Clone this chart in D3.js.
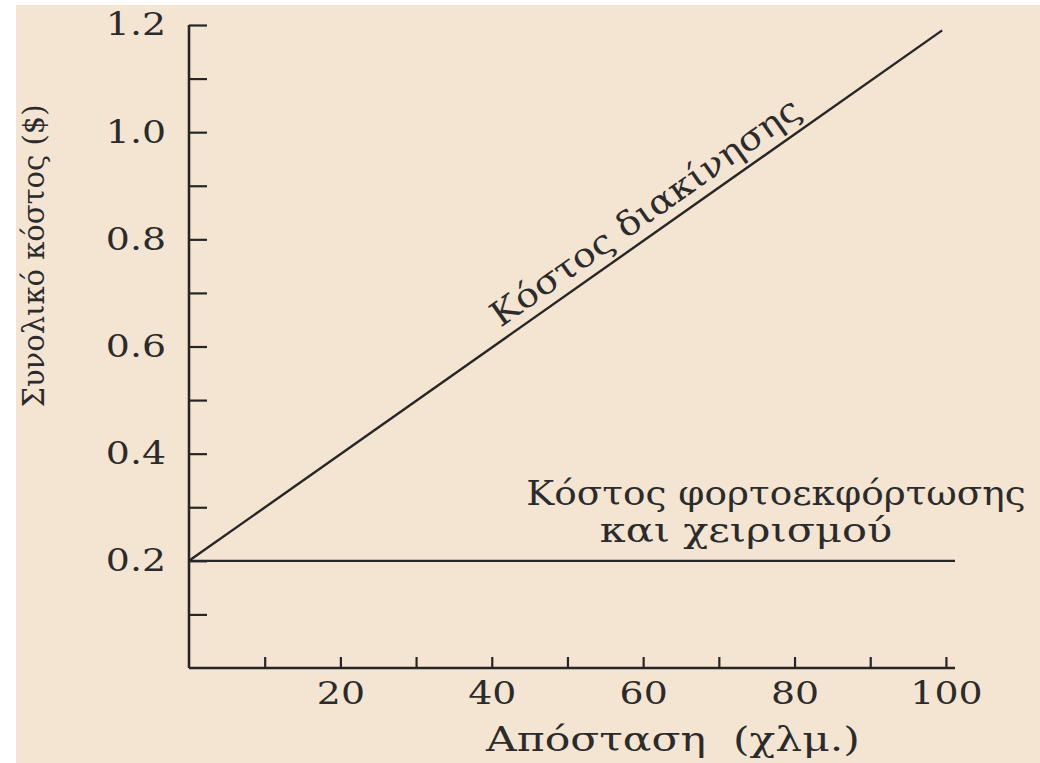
<!DOCTYPE html>
<html>
<head>
<meta charset="utf-8">
<script src="https://cdn.jsdelivr.net/npm/d3@7"></script>
<style>
  body { margin: 0; background: #ffffff; }
  text { font-family: "DejaVu Serif", serif; fill: #2b2b2b; }
</style>
</head>
<body>
<div id="chart"></div>
<script>
// distance in km, cost in $
var xTicks = [10, 20, 30, 40, 50, 60, 70, 80, 90, 100];
var xLabels = [20, 40, 60, 80, 100];
var yTicks = [0.1, 0.2, 0.3, 0.4, 0.5, 0.6, 0.7, 0.8, 0.9, 1.0, 1.1, 1.2];
var yLabels = [0.2, 0.4, 0.6, 0.8, 1.0, 1.2];

var movingCost = [{x: 0, y: 0.2}, {x: 99.5, y: 1.19}];
var handlingCost = [{x: 0, y: 0.2}, {x: 101.2, y: 0.2}];

var width = 1040, height = 763;

// the scanned book font is wider than DejaVu, so stretch text a little
function widen(sel, f) {
    sel.each(function() {
        var w = this.getComputedTextLength();
        if (w > 0) {
            d3.select(this)
                .attr("textLength", w * f)
                .attr("lengthAdjust", "spacingAndGlyphs");
        }
    });
}

var svg = d3.select("#chart").append("svg")
    .attr("width", width)
    .attr("height", height);

// paper background (scan leaves a white strip on the left and top)
svg.append("rect")
    .attr("x", 16).attr("y", 5)
    .attr("width", width - 16).attr("height", height - 5)
    .attr("fill", "#f4e5d3");

var x = d3.scaleLinear().domain([0, 101.2]).range([189, 955]);
var y = d3.scaleLinear().domain([0, 1.2]).range([668, 25]);

// x axis, ticks point inward
var xAxis = d3.axisBottom(x)
    .tickValues(xTicks)
    .tickSize(-11)
    .tickPadding(14)
    .tickFormat(function(d) { return xLabels.indexOf(d) >= 0 ? d : ""; });

var gx = svg.append("g")
    .attr("transform", "translate(0," + y(0) + ")")
    .call(xAxis);

// y axis
var yAxis = d3.axisLeft(y)
    .tickValues(yTicks)
    .tickSize(-18)
    .tickPadding(23)
    .tickFormat(function(d) {
        return yLabels.some(function(v) { return Math.abs(v - d) < 1e-9; }) ? d3.format(".1f")(d) : "";
    });

var gy = svg.append("g")
    .attr("transform", "translate(" + x(0) + ",0)")
    .call(yAxis);

[gx, gy].forEach(function(g) {
    g.select(".domain").attr("stroke", "#262626").attr("stroke-width", 2.6);
    g.selectAll(".tick line").attr("stroke", "#262626").attr("stroke-width", 2.2);
    g.selectAll(".tick text")
        .style("font-family", "DejaVu Serif")
        .style("font-size", "31px")
        .attr("fill", "#2b2b2b")
        .call(widen, 1.22);
});
gy.select(".domain").attr("d", "M0," + y(1.2) + "V" + y(0));
gx.select(".domain").attr("d", "M" + x(0) + ",0H" + x(101.2));

var line = d3.line()
    .x(function(d) { return x(d.x); })
    .y(function(d) { return y(d.y); });

svg.append("path")
    .datum(movingCost)
    .attr("d", line)
    .attr("fill", "none")
    .attr("stroke", "#262626")
    .attr("stroke-width", 2.4);

svg.append("path")
    .datum(handlingCost)
    .attr("d", line)
    .attr("fill", "none")
    .attr("stroke", "#262626")
    .attr("stroke-width", 2.4);

// label along the sloped line
var p0 = movingCost[0], p1 = movingCost[1];
var slope = (p1.y - p0.y) / (p1.x - p0.x);
var angle = Math.atan2(y(p1.y) - y(p0.y), x(p1.x) - x(p0.x)) * 180 / Math.PI;
var lx = x(42), ly = y(p0.y + slope * 42);
svg.append("text")
    .attr("transform", "translate(" + lx + "," + ly + ") rotate(" + angle + ")")
    .attr("dy", -11)
    .style("font-size", "34px")
    .text("Κόστος διακίνησης")
    .call(widen, 1.11);

svg.append("text")
    .attr("x", 776).attr("y", 505)
    .attr("text-anchor", "middle")
    .style("font-size", "34px")
    .text("Κόστος φορτοεκφόρτωσης")
    .call(widen, 1.1);

svg.append("text")
    .attr("x", 746).attr("y", 542)
    .attr("text-anchor", "middle")
    .style("font-size", "34px")
    .text("και χειρισμού")
    .call(widen, 1.22);

// axis titles
svg.append("text")
    .attr("x", 673).attr("y", 751)
    .attr("text-anchor", "middle")
    .style("font-size", "34px")
    .attr("xml:space", "preserve")
    .text("Απόσταση  (χλμ.)")
    .call(widen, 1.25);

svg.append("text")
    .attr("transform", "translate(44,256) rotate(-90)")
    .attr("text-anchor", "middle")
    .style("font-size", "29px")
    .text("Συνολικό κόστος ($)");
</script>
</body>
</html>
